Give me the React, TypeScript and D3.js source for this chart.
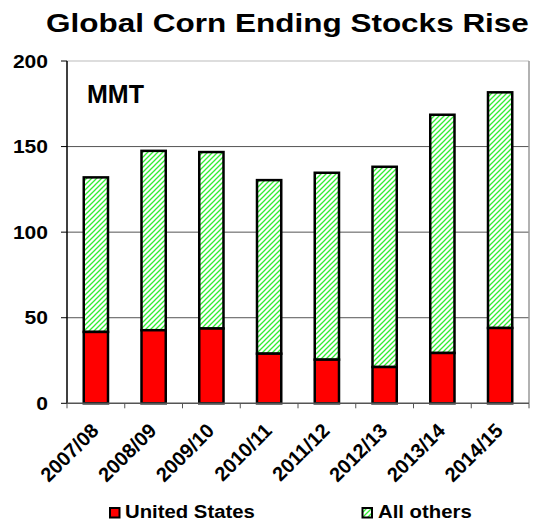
import React from "react";
import * as d3 from "d3";

const categories = ["2007/08", "2008/09", "2009/10", "2010/11", "2011/12", "2012/13", "2013/14", "2014/15"];
const unitedStates = [41.7, 42.7, 43.7, 29.0, 25.5, 21.2, 29.4, 44.0];
const totals = [132.0, 147.5, 146.8, 130.4, 134.7, 138.2, 168.6, 181.7];
const allOthers = totals.map((t, i) => t - unitedStates[i]);
const yTicks = [0, 50, 100, 150, 200];

const W = 537, H = 522;
const left = 67, right = 529, top = 61, bottom = 403.3;

export default function App() {
  const x = d3.scaleBand().domain(categories).range([left, right]).paddingInner(0.58).paddingOuter(0.29);
  const xc = d3.scaleBand().domain(categories).range([left, right]);
  const y = d3.scaleLinear().domain([0, 200]).range([bottom, top]);
  const font = "Liberation Sans, Arial, sans-serif";
  return (
    <svg width={W} height={H} style={{ position: "absolute", left: 0, top: 0 }} fontFamily={font}>
      <defs>
        <pattern id="hatch" patternUnits="userSpaceOnUse" width="5" height="5">
          <rect width="5" height="5" fill="#ffffff" />
          <path d="M-1,1 l2,-2 M0,5 l5,-5 M4,6 l2,-2" stroke="#33ee33" strokeWidth="1.3" />
        </pattern>
      </defs>
      <rect width={W} height={H} fill="#fff" />
      <text transform="translate(287.5 32) scale(1.23 1)" textAnchor="middle" fontSize={25.6} fontWeight="bold">Global Corn Ending Stocks Rise</text>
      {/* grid */}
      {yTicks.filter(t => t > 0).map(t => (
        <line key={t} x1={left} x2={right} y1={y(t)} y2={y(t)} stroke={t === 200 ? "#bbb" : "#555"} strokeWidth={1} />
      ))}
      <line x1={right} x2={right} y1={top} y2={bottom} stroke="#999" strokeWidth={1.5} />
      {/* bars */}
      {categories.map((c, i) => (
        <g key={c}>
          <rect x={x(c)} y={y(totals[i])} width={x.bandwidth()} height={y(unitedStates[i]) - y(totals[i])} fill="url(#hatch)" stroke="#000" strokeWidth={2.5} />
          <rect x={x(c)} y={y(unitedStates[i])} width={x.bandwidth()} height={bottom - y(unitedStates[i])} fill="#ff0000" stroke="#000" strokeWidth={2.5} />
        </g>
      ))}
      {/* axes */}
      <line x1={left} x2={left} y1={top} y2={bottom} stroke="#000" strokeWidth={1.5} />
      {yTicks.map(t => (
        <g key={t}>
          <line x1={left - 6} x2={left} y1={y(t)} y2={y(t)} stroke="#000" strokeWidth={1} />
          <text transform={`translate(48 ${y(t) + 6.7}) scale(1.19 1)`} textAnchor="end" fontSize={17.7} fontWeight="bold">{t}</text>
        </g>
      ))}
      <line x1={left} x2={right} y1={bottom} y2={bottom} stroke="#555" strokeWidth={1.5} />
      {categories.concat(["end"]).map((c, i) => {
        const px = left + i * xc.bandwidth();
        return <line key={c} x1={px} x2={px} y1={bottom} y2={bottom + 5} stroke="#555" strokeWidth={1} />;
      })}
      {categories.map(c => {
        const cx = (xc(c) as number) + xc.bandwidth() / 2 + 4;
        const cy = 432;
        return (
          <text key={c} x={cx} y={cy} transform={`rotate(-45 ${cx} ${cy})`} textAnchor="end" fontSize={20} fontWeight="bold">{c}</text>
        );
      })}
      <text x={87} y={103} fontSize={25} fontWeight="bold">MMT</text>
      {/* legend */}
      <rect x={110} y={508} width={9.5} height={9.5} fill="#ff0000" stroke="#000" strokeWidth={2} />
      <text transform="translate(125 518.3) scale(1.13 1)" fontSize={18} fontWeight="bold">United States</text>
      <rect x={362.5} y={508} width={9.5} height={9.5} fill="url(#hatch)" stroke="#000" strokeWidth={2} />
      <text transform="translate(378 518.3) scale(1.13 1)" fontSize={18} fontWeight="bold">All others</text>
    </svg>
  );
}
